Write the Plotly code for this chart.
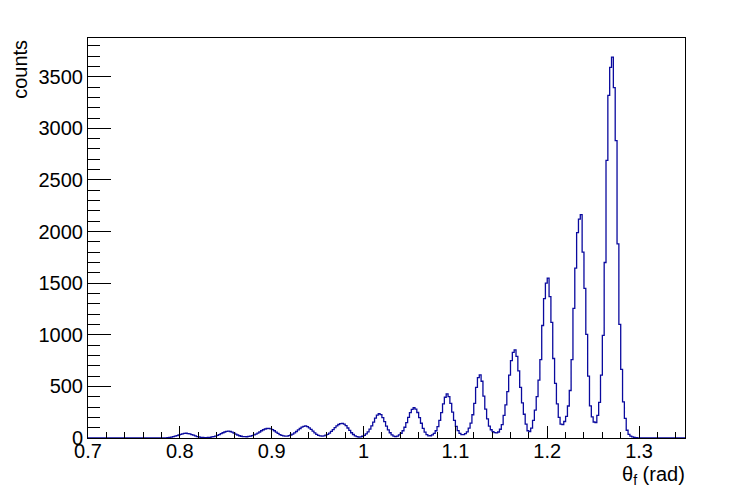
import numpy as np
import plotly.graph_objects as go

# Histogram: bins of width 0.002 rad starting at 0.780 rad
bin_low = 0.780
bin_width = 0.002
counts = [
    0, 1, 2, 4, 6, 9, 13, 18, 23, 29,                      # 0.781 ..
    35, 40, 44, 46, 43, 39, 33, 27, 20, 14,                # 0.801 ..
    10, 7, 5, 4, 3, 5, 7, 10, 14, 19,                      # 0.821 ..
    26, 33, 42, 51, 58, 64, 67, 63, 56, 47,                # 0.841 ..
    38, 29, 22, 17, 14, 13, 12, 15, 18, 23,                # 0.861 ..
    30, 38, 48, 58, 70, 80, 87, 92, 94, 89,                # 0.881 ..
    81, 70, 57, 44, 33, 25, 20, 18, 19, 23,                # 0.901 ..
    29, 38, 50, 63, 78, 92, 105, 113, 117, 111,            # 0.921 ..
    99, 84, 66, 49, 35, 25, 20, 18, 21, 27,                # 0.941 ..
    36, 48, 64, 82, 101, 118, 131, 139, 141, 135,          # 0.961 ..
    119, 97, 73, 51, 34, 21, 13, 9, 11, 17,                # 0.981 ..
    26, 40, 60, 86, 118, 154, 192, 221, 235, 226,          # 1.001 ..
    198, 158, 116, 79, 51, 31, 19, 14, 19, 30,             # 1.021 ..
    46, 70, 104, 148, 199, 245, 278, 293, 280, 247,        # 1.041 ..
    198, 143, 94, 57, 33, 21, 22, 30, 44, 70,              # 1.061 ..
    110, 170, 245, 330, 395, 427, 400, 335, 250, 170,      # 1.081 ..
    112, 72, 45, 32, 33, 42, 60, 95, 145, 225,             # 1.101 ..
    335, 490, 585, 611, 550, 405, 280, 185, 115, 80,       # 1.121 ..
    62, 53, 50, 58, 85, 130, 220, 320, 450, 610,           # 1.141 ..
    750, 830, 853, 790, 650, 490, 340, 230, 135, 70,       # 1.161 ..
    62, 95, 170, 270, 400, 560, 760, 1090, 1350, 1500,     # 1.181 ..
    1549, 1370, 1120, 770, 530, 330, 200, 135, 130, 160,   # 1.201 ..
    210, 310, 460, 760, 1255, 1645, 1990, 2120, 2163, 1800,  # 1.221 ..
    1450, 1003, 600, 312, 205, 155, 150, 220, 345, 610,    # 1.241 ..
    995, 1700, 2690, 3320, 3590, 3690, 3395, 2880, 1880, 1100,  # 1.261 ..
    665, 350, 190, 75, 35, 18, 10, 6, 3, 2,                # 1.281 ..
    1, 1, 0, 0, 0,                                         # 1.301 ..
]

x_range = [0.7, 1.35]
y_range = [0, 3875]
x_tick_vals = [0.7, 0.8, 0.9, 1.0, 1.1, 1.2, 1.3]
x_tick_text = ["0.7", "0.8", "0.9", "1", "1.1", "1.2", "1.3"]
y_tick_vals = [0, 500, 1000, 1500, 2000, 2500, 3000, 3500]
y_tick_text = ["0", "500", "1000", "1500", "2000", "2500", "3000", "3500"]
x_title = "θ<sub>f</sub> (rad)"
y_title = "counts"

centers = bin_low + bin_width * (np.arange(len(counts)) + 0.5)
xs = np.concatenate([[x_range[0]], centers, [x_range[1]]])
ys = np.concatenate([[0], np.array(counts, dtype=float), [0]])

FONT = "Liberation Sans, Arial, Helvetica, sans-serif"
LINE_COLOR = "#0a0a9e"

fig = go.Figure()
fig.add_trace(go.Scatter(
    x=xs, y=ys, mode="lines",
    line=dict(color=LINE_COLOR, width=1.3, shape="hvh"),
    hoverinfo="skip", showlegend=False,
))

fig.update_layout(
    width=747, height=500,
    margin=dict(l=88, r=62, t=38, b=62),
    paper_bgcolor="white", plot_bgcolor="white",
    font=dict(family=FONT, size=20, color="black"),
    showlegend=False,
)

fig.update_xaxes(
    range=x_range, showgrid=False, zeroline=False, automargin=False,
    showline=True, linecolor="black", linewidth=1, mirror=True,
    ticks="inside", ticklen=12, tickcolor="black", tickwidth=1,
    tickvals=x_tick_vals, ticktext=x_tick_text, ticklabelstandoff=-5,
    tickfont=dict(family=FONT, size=20, color="black"),
    minor=dict(ticks="inside", ticklen=6, tickcolor="black", tick0=0.7, dtick=0.02, showgrid=False),
)
fig.update_yaxes(
    range=y_range, showgrid=False, zeroline=False, automargin=False,
    showline=True, linecolor="black", linewidth=1, mirror=True,
    ticks="inside", ticklen=23, tickcolor="black", tickwidth=1,
    tickvals=y_tick_vals, ticktext=y_tick_text,
    tickfont=dict(family=FONT, size=20, color="black"),
    minor=dict(ticks="inside", ticklen=12, tickcolor="black", tick0=0, dtick=100, showgrid=False),
)

fig.add_annotation(
    text=x_title, xref="paper", yref="paper", x=1.0, y=-0.093, xshift=2,
    xanchor="right", yanchor="middle", showarrow=False,
    font=dict(family=FONT, size=20, color="black"),
)
fig.add_annotation(
    text=y_title, xref="paper", yref="paper", x=-0.115, y=1.0,
    xanchor="center", yanchor="top", textangle=-90, showarrow=False,
    font=dict(family=FONT, size=20, color="black"),
)

fig.write_html("out.html", config={"displayModeBar": False},
               post_script="document.body.style.margin='0';")
